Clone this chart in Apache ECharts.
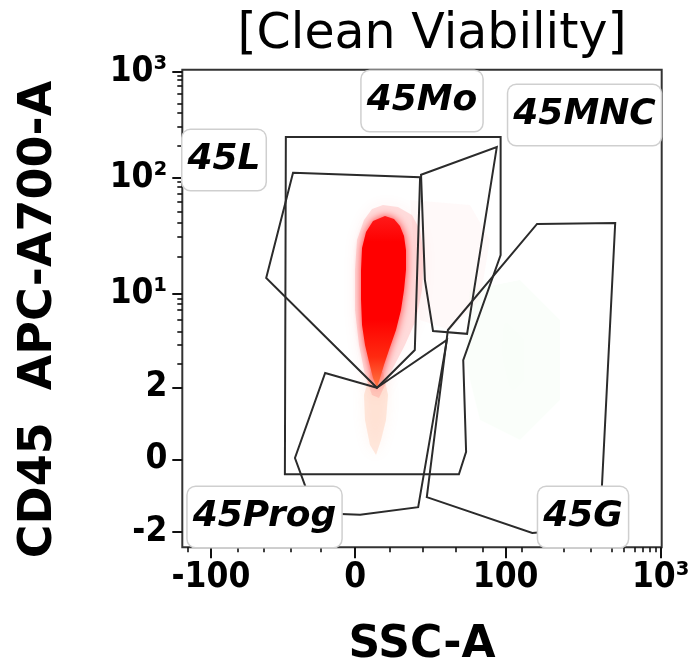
<!DOCTYPE html>
<html><head><meta charset="utf-8">
<script src="https://cdn.jsdelivr.net/npm/echarts@6/dist/echarts.min.js"></script>
<style>html,body{margin:0;padding:0;background:#fff}#c{width:693px;height:671px}</style>
</head><body><div id="c"></div>
<script>
// Display scale: biexponential channels 0..1000 on both axes
const xMajorTicks = [59.7, 360.7, 674.4, 997.9];
const xMajorLabels = ['-100', '0', '100', '10³'];
const xMinorTicks = [12.3, 114.9, 169.4, 226.1, 289.7, 433.5, 502.3, 569.5, 626.2, 707.6, 794.7, 852.7, 895.3, 921.3, 944.3, 960.4, 975.6, 988.1];
const yMajorTicks = [32.7, 184.3, 335.0, 530.4, 773.9, 996.0];
const yMajorLabels = ['-2', '0', '2', '10¹', '10²', '10³'];
const yMinorTicks = [986.8, 978.4, 965.9, 950.6, 929.6, 910.0, 880.7, 840.2, 765.5, 755.0, 741.2, 723.6, 702.7, 679.6, 650.3, 608.5, 521.4, 510.9, 496.9, 476.0, 451.4, 423.6, 385.3];

// Gates (channel units)
const gate45L = [[231, 784], [496, 775], [485, 413], [406, 334], [175, 564]];
const gate45Prog = [[406, 334], [298, 365], [235, 187], [277, 72], [371, 68], [492, 84], [552, 434]];
const gate45Mo = [[498, 780], [656, 838], [594, 447], [523, 453], [506, 560]];
const gate45MNC = [[216, 859], [664, 859], [664, 612], [586, 392], [592, 200], [577, 153], [214, 153]];
const gate45G = [[740, 677], [903, 679], [871, 42], [730, 30], [510, 105], [554, 455]];

// Gate labels
const gateLabelNames = ['45L', '45Mo', '45MNC', '45Prog', '45G'];
const gateLabelX = [87.0, 500.0, 839.0, 171.5, 835.9];
const gateLabelY = [810.9, 934.5, 905.2, 63.4, 63.4];

// Event density contours (channel units)
const cloudHalo = [[418.7,716.7],[449.9,712.5],[479.1,695.8],[495.8,664.4],[504.2,612.0],[500.0,538.7],[487.5,475.9],[464.5,423.6],[439.5,375.4],[422.8,339.8],[410.3,312.6],[395.7,318.9],[381.1,360.8],[368.6,423.6],[360.2,496.9],[360.2,580.6],[364.4,643.4],[379.0,685.3],[395.7,708.3]];
const cloudCore = [[422.8,693.7],[441.6,687.4],[454.1,672.7],[462.5,651.8],[466.6,622.5],[466.6,580.6],[462.5,538.7],[456.2,496.9],[445.8,455.0],[431.2,413.1],[420.7,381.7],[412.4,354.5],[406.1,333.5],[397.8,354.5],[389.5,388.0],[381.1,423.6],[374.9,465.5],[372.8,517.8],[372.8,580.6],[374.9,626.7],[383.2,660.2],[397.8,683.2]];
const cloudTail = [[393.6,371.2],[418.7,367.0],[429.1,318.9],[424.9,266.5],[414.5,224.7],[404.1,193.3],[391.5,214.2],[381.1,266.5],[379.0,318.9]];
const cloudPinkHaze = [[475.0,727.2],[600.1,716.7],[641.9,643.4],[621.0,517.8],[558.4,455.0],[495.8,475.9]];
const cloudGreenHaze = [[600.1,538.7],[704.4,559.7],[787.9,475.9],[787.9,308.4],[704.4,224.7],[621.0,266.5],[589.7,392.2]];

function nearestLabel(v, ticks, labels) {
  let bi = 0, bd = Infinity;
  ticks.forEach((t, i) => { const d = Math.abs(t - v); if (d < bd) { bd = d; bi = i; } });
  return bd < 1 ? labels[bi] : '';
}
function polygonSeries(name, pts, style, z) {
  return {
    type: 'custom', name, coordinateSystem: 'cartesian2d', xAxisIndex: 0, yAxisIndex: 0,
    z, silent: true, clip: true, data: [pts[0]],
    renderItem: (params, api) => ({
      type: 'polygon',
      shape: { points: pts.map(p => api.coord(p)) },
      style: Object.assign({}, style)
    })
  };
}

const chart = echarts.init(document.getElementById('c'), null, { renderer: 'canvas' });
const tickFont = { fontFamily: "'DejaVu Sans Condensed', 'Liberation Sans', sans-serif", fontWeight: 'bold', fontSize: 35, color: '#000' };
const nameFont = { fontFamily: 'DejaVu Sans', fontWeight: 'bold', fontSize: 44, color: '#000' };
const gateStyle = { fill: 'none', stroke: '#2b2b2b', lineWidth: 2, lineJoin: 'miter' };

const option = {
  animation: false,
  backgroundColor: '#fff',
  title: {
    text: '[Clean Viability]', left: 432, top: 11, padding: 0, textAlign: 'center',
    textStyle: { fontFamily: 'DejaVu Sans', fontWeight: 'normal', fontSize: 49, color: '#000' }
  },
  grid: {
    left: 182.3, right: 31.3, top: 69.7, bottom: 123.7,
    show: true, borderColor: '#333', borderWidth: 2, backgroundColor: 'transparent',
    containLabel: false, outerBoundsMode: 'none'
  },
  xAxis: [
    {
      type: 'value', min: 0, max: 1000, position: 'bottom',
      name: 'SSC-A', nameLocation: 'middle', nameGap: 76, nameTextStyle: nameFont,
      axisLine: { show: false }, splitLine: { show: false },
      axisTick: { show: true, customValues: xMajorTicks, length: 11, lineStyle: { color: '#111', width: 2 } },
      axisLabel: { show: true, customValues: xMajorTicks, margin: 13, ...tickFont,
        formatter: v => nearestLabel(v, xMajorTicks, xMajorLabels) }
    },
    {
      type: 'value', min: 0, max: 1000, position: 'bottom',
      axisLine: { show: false }, splitLine: { show: false }, axisLabel: { show: false },
      axisTick: { show: true, customValues: xMinorTicks, length: 5, lineStyle: { color: '#111', width: 1.6 } }
    }
  ],
  yAxis: [
    {
      type: 'value', min: 0, max: 1000, position: 'left',
      name: 'CD45  APC-A700-A', nameLocation: 'middle', nameGap: 120,
      nameTextStyle: Object.assign({}, nameFont, { fontSize: 46, padding: [0, 22, 0, 0] }),
      axisLine: { show: false }, splitLine: { show: false },
      axisTick: { show: true, customValues: yMajorTicks, length: 10, lineStyle: { color: '#111', width: 2 } },
      axisLabel: { show: true, customValues: yMajorTicks, margin: 15, ...tickFont,
        formatter: v => nearestLabel(v, yMajorTicks, yMajorLabels) }
    },
    {
      type: 'value', min: 0, max: 1000, position: 'left',
      axisLine: { show: false }, splitLine: { show: false }, axisLabel: { show: false },
      axisTick: { show: true, customValues: yMinorTicks, length: 5, lineStyle: { color: '#111', width: 1.6 } }
    }
  ],
  series: [
    polygonSeries('greenHaze', cloudGreenHaze, { fill: 'rgba(120,220,120,0.035)', shadowBlur: 30, shadowColor: 'rgba(120,220,120,0.12)' }, 1),
    polygonSeries('pinkHaze', cloudPinkHaze, { fill: 'rgba(255,110,110,0.04)', shadowBlur: 30, shadowColor: 'rgba(255,110,110,0.12)' }, 1),
    polygonSeries('tail', cloudTail, { fill: 'rgba(255,150,100,0.2)', shadowBlur: 14, shadowColor: 'rgba(255,150,100,0.5)' }, 2),
    polygonSeries('halo', cloudHalo, { fill: 'rgba(255,40,40,0.14)', shadowBlur: 16, shadowColor: 'rgba(255,60,60,0.4)' }, 2),
    polygonSeries('core', cloudCore, {
      fill: new echarts.graphic.LinearGradient(0, 0, 0, 1, [
        { offset: 0, color: '#ff1a1a' }, { offset: 0.15, color: '#ff0000' }, { offset: 0.6, color: '#ff0000' },
        { offset: 0.82, color: '#ff2a10' }, { offset: 1, color: '#ff7a45' }
      ]),
      shadowBlur: 8, shadowColor: 'rgba(255,0,0,0.75)'
    }, 3),
    polygonSeries('45MNC', gate45MNC, gateStyle, 4),
    polygonSeries('45L', gate45L, gateStyle, 4),
    polygonSeries('45Mo', gate45Mo, gateStyle, 4),
    polygonSeries('45Prog', gate45Prog, gateStyle, 4),
    polygonSeries('45G', gate45G, gateStyle, 4),
    {
      type: 'scatter', name: 'gateLabels', z: 6, silent: true,
      symbolSize: 0, itemStyle: { color: '#000', opacity: 1 },
      data: gateLabelNames.map((n, i) => ({ name: n, value: [gateLabelX[i], gateLabelY[i]] })),
      label: {
        show: true, position: 'inside', formatter: p => p.name,
        fontFamily: 'DejaVu Sans', fontStyle: 'italic', fontWeight: 'bold', fontSize: 36, color: '#000',
        lineHeight: 44, backgroundColor: '#fff', borderColor: '#cfcfcf',
        borderWidth: 1.5, borderRadius: 8, padding: [8, 5, 8, 5]
      }
    }
  ]
};
chart.setOption(option);
</script>
</body></html>
